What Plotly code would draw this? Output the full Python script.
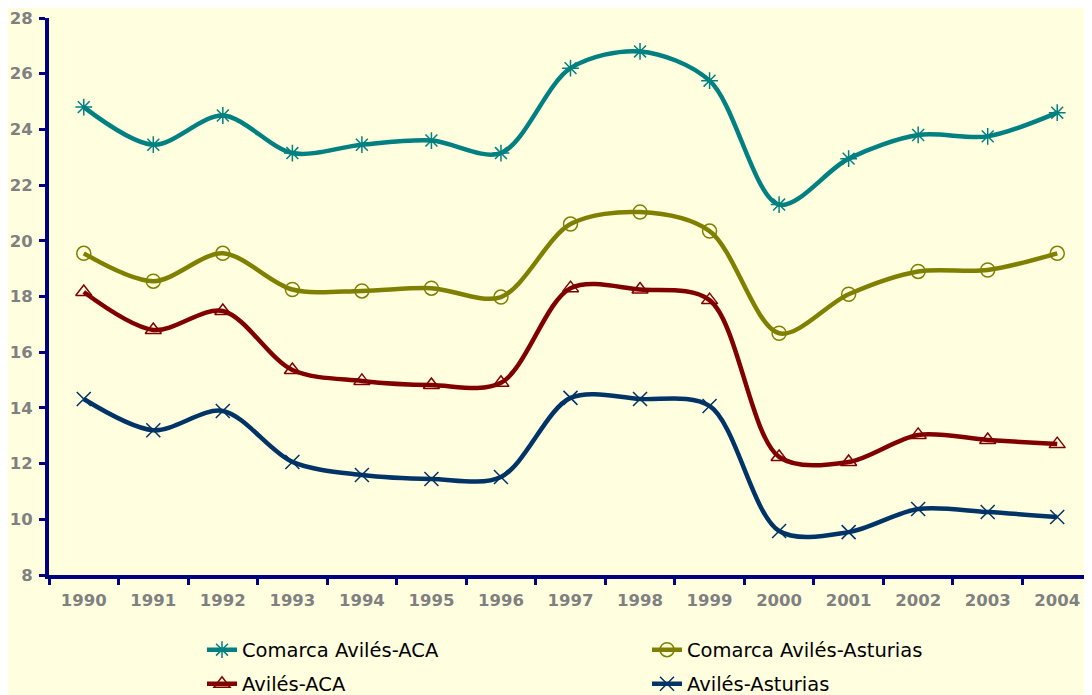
import plotly.graph_objects as go

years = ["1990", "1991", "1992", "1993", "1994", "1995", "1996", "1997",
         "1998", "1999", "2000", "2001", "2002", "2003", "2004"]

comarca_aca = [24.8, 23.45, 24.5, 23.15, 23.45, 23.6, 23.15, 26.2,
               26.8, 25.75, 21.3, 22.95, 23.8, 23.75, 24.6]
comarca_ast = [19.55, 18.55, 19.55, 18.25, 18.2, 18.3, 17.98, 20.6,
               21.03, 20.35, 16.68, 18.08, 18.9, 18.95, 19.55]
aviles_aca = [18.16, 16.8, 17.48, 15.36, 14.97, 14.82, 14.9, 18.3,
              18.25, 17.87, 12.24, 12.06, 13.03, 12.85, 12.7]
aviles_ast = [14.32, 13.2, 13.89, 12.06, 11.59, 11.45, 11.52, 14.36,
              14.32, 14.07, 9.58, 9.54, 10.37, 10.26, 10.08]

series = [
    ("Comarca Avilés-ACA", comarca_aca, "#008080", "asterisk-open", "legend"),
    ("Comarca Avilés-Asturias", comarca_ast, "#808000", "circle-open", "legend"),
    ("Avilés-ACA", aviles_aca, "#800000", "triangle-up-open", "legend2"),
    ("Avilés-Asturias", aviles_ast, "#003366", "x-thin-open", "legend2"),
]

fig = go.Figure()
for name, vals, color, sym, leg in series:
    fig.add_trace(go.Scatter(
        x=years, y=vals, name=name, mode="lines+markers",
        line=dict(color=color, width=4.5, shape="spline", smoothing=0.9),
        marker=dict(symbol=sym, size=14, color=color, line=dict(color=color, width=1.5)),
        legend=leg,
    ))

tickfont = dict(family="DejaVu Sans", size=16.5, color="#808080", weight="bold")
legfont = dict(family="DejaVu Sans", size=19.5, color="black")

# page body has an 8px default margin, so the figure is drawn 8px smaller
W, H = 1084, 687

fig.update_layout(
    width=W, height=H,
    margin=dict(l=41, r=0, t=10, b=120),
    paper_bgcolor="#FFFFE0", plot_bgcolor="#FFFFE0",
    xaxis=dict(type="category", range=[-0.5, len(years) - 0.5],
               showgrid=False, zeroline=False, automargin=False,
               showline=True, linecolor="#000080", linewidth=4,
               ticks="outside", tickson="boundaries", ticklen=6, tickwidth=3,
               tickcolor="#000080", tickfont=tickfont, ticklabelstandoff=7),
    yaxis=dict(range=[8, 28], dtick=2, showgrid=False, zeroline=False, automargin=False,
               showline=True, linecolor="#000080", linewidth=4,
               ticks="outside", ticklen=6, tickwidth=3, tickcolor="#000080",
               tickfont=tickfont, ticklabelstandoff=3),
    legend=dict(orientation="h", xref="container", yref="container",
                x=194 / W, y=1 - 642 / H, xanchor="left", yanchor="middle",
                entrywidth=400, font=legfont, bgcolor="rgba(0,0,0,0)"),
    legend2=dict(orientation="h", xref="container", yref="container",
                 x=194 / W, y=1 - 676 / H, xanchor="left", yanchor="middle",
                 entrywidth=400, font=legfont, bgcolor="rgba(0,0,0,0)"),
)

fig.write_html("out.html")
